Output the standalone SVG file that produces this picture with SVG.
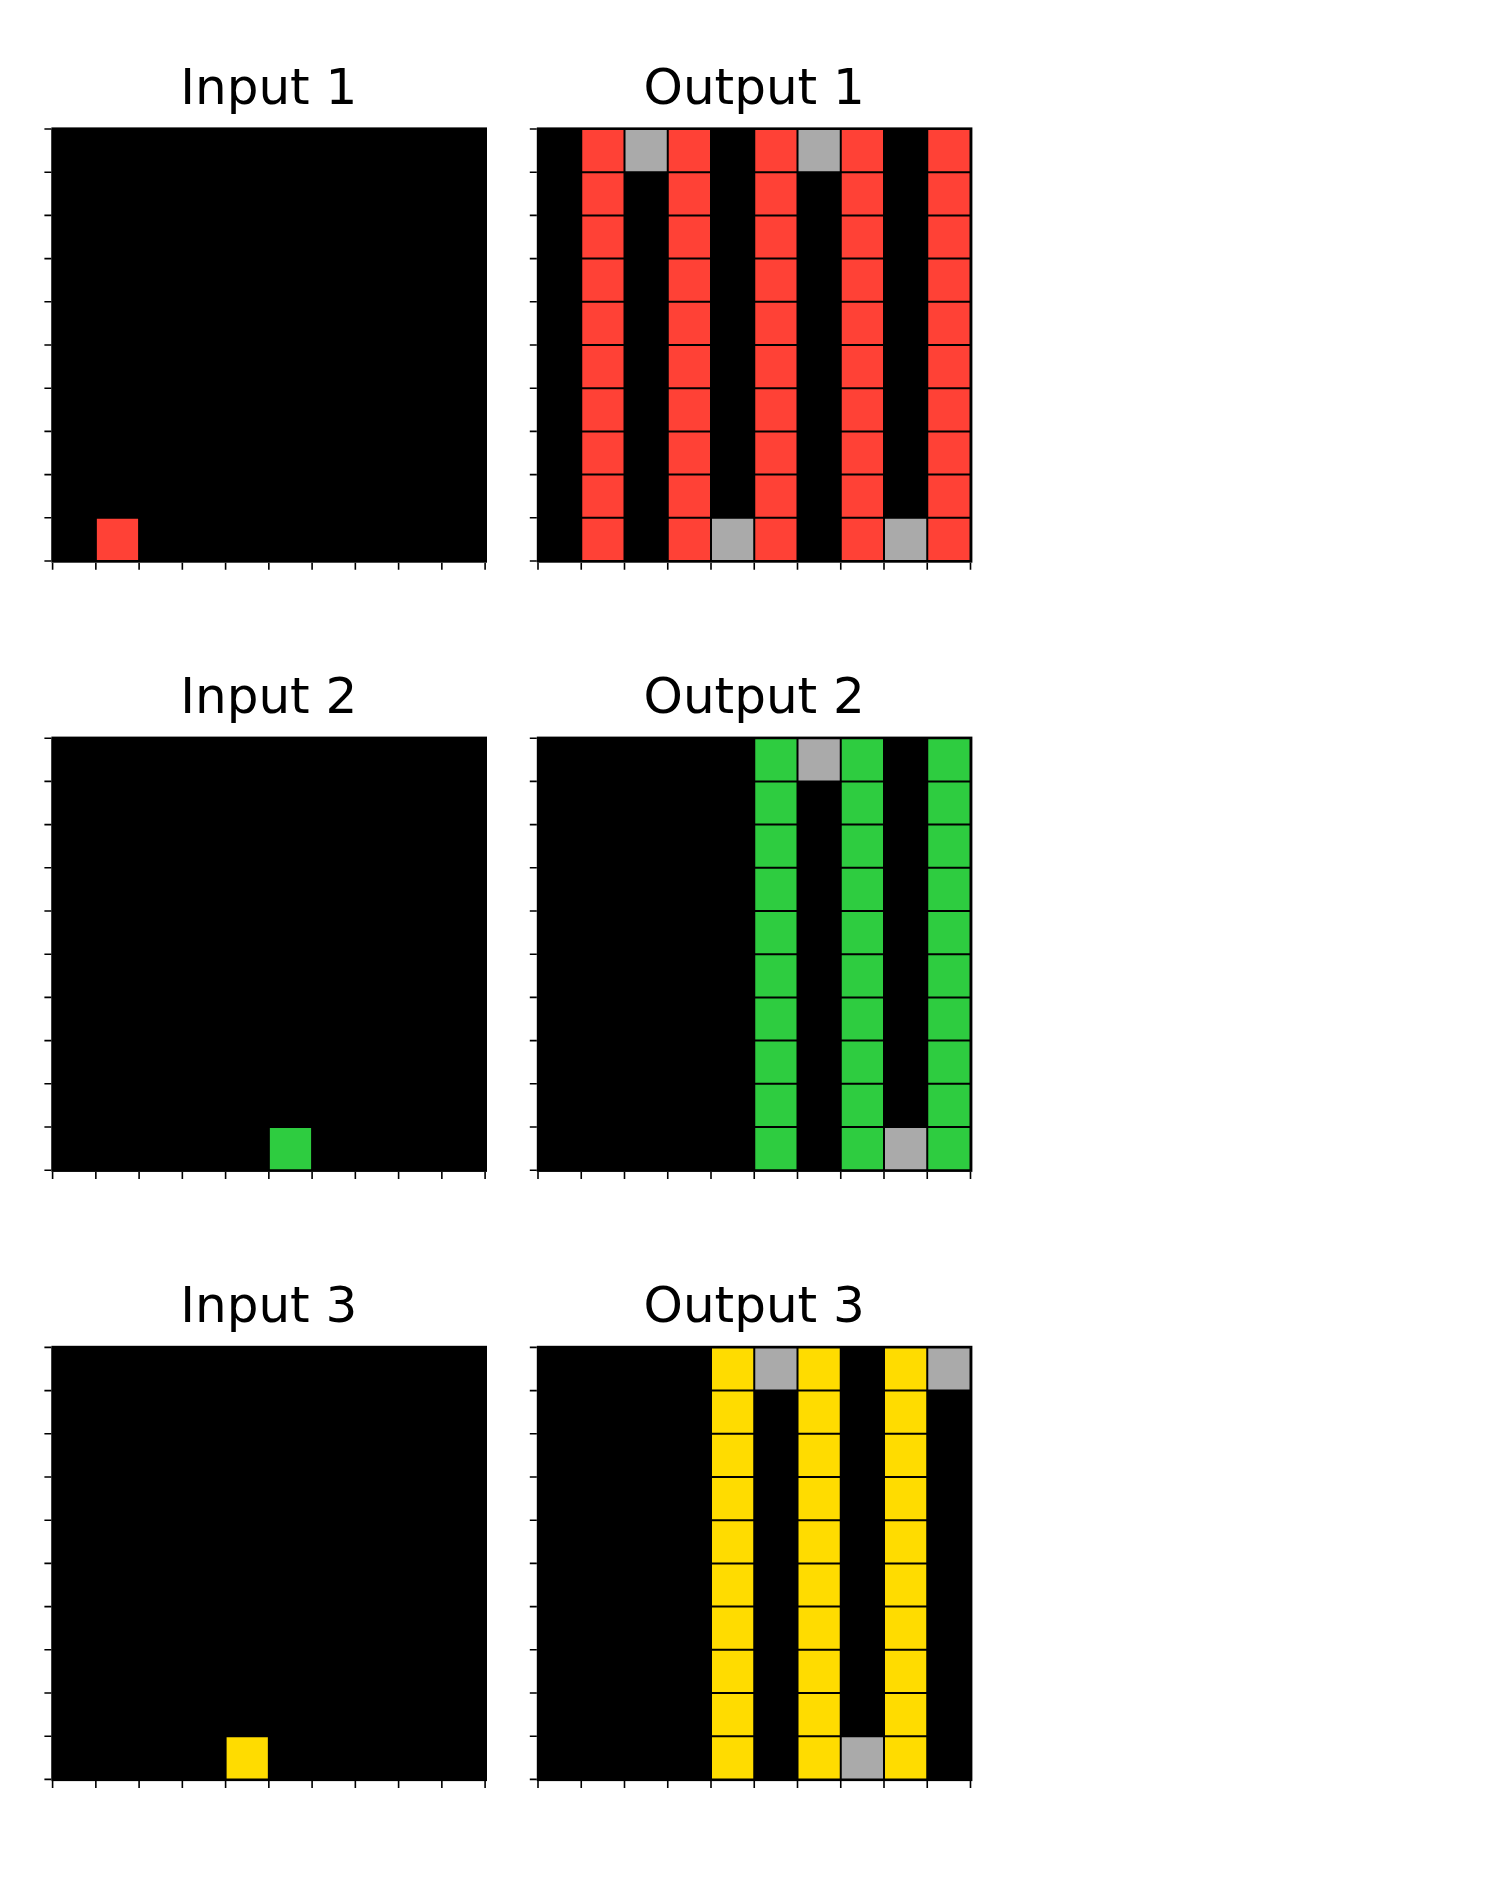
<svg xmlns="http://www.w3.org/2000/svg" xmlns:xlink="http://www.w3.org/1999/xlink" width="1500" height="1890" viewBox="0 0 1500 1890">
<style>
.t{font-family:"DejaVu Sans",sans-serif;font-size:50px;fill:#000;text-anchor:middle}
.r{fill:#FF4136}.g{fill:#2ECC40}.y{fill:#FFDC00}.a{fill:#AAAAAA}
</style>
<defs>
<g id="frame">
<rect x="-1.2" y="-1.6" width="435.6" height="435.3" fill="#000"/>
<path d="M-8.2 0H-1.2M-8.2 43.2H-1.2M-8.2 86.4H-1.2M-8.2 129.6H-1.2M-8.2 172.8H-1.2M-8.2 216H-1.2M-8.2 259.2H-1.2M-8.2 302.4H-1.2M-8.2 345.6H-1.2M-8.2 388.8H-1.2M-8.2 432H-1.2M0 433.7V440.7M43.25 433.7V440.7M86.5 433.7V440.7M129.75 433.7V440.7M173 433.7V440.7M216.25 433.7V440.7M259.5 433.7V440.7M302.75 433.7V440.7M346 433.7V440.7M389.25 433.7V440.7M432.5 433.7V440.7" stroke="#000" stroke-width="1.6" fill="none"/>
</g>
<path id="gl" d="M0 0V432M43.25 0V432M86.5 0V432M129.75 0V432M173 0V432M216.25 0V432M259.5 0V432M302.75 0V432M346 0V432M389.25 0V432M432.5 0V432M0 0H432.5M0 43.2H432.5M0 86.4H432.5M0 129.6H432.5M0 172.8H432.5M0 216H432.5M0 259.2H432.5M0 302.4H432.5M0 345.6H432.5M0 388.8H432.5M0 432H432.5" stroke="#000" stroke-width="2" fill="none"/>
</defs>
<rect width="1500" height="1890" fill="#fff"/>

<g id="input1" transform="translate(52.6,129)">
<text class="t" x="216.25" y="-25">Input 1</text>
<use xlink:href="#frame"/>
<rect class="r" x="43.25" y="388.8" width="43.25" height="43.2"/>
<use xlink:href="#gl"/>
</g>

<g id="output1" transform="translate(538,129)">
<text class="t" x="216.25" y="-25">Output 1</text>
<use xlink:href="#frame"/>
<rect class="r" x="43.25" y="0" width="43.25" height="432"/>
<rect class="r" x="129.75" y="0" width="43.25" height="432"/>
<rect class="r" x="216.25" y="0" width="43.25" height="432"/>
<rect class="r" x="302.75" y="0" width="43.25" height="432"/>
<rect class="r" x="389.25" y="0" width="43.25" height="432"/>
<rect class="a" x="86.5" y="0" width="43.25" height="43.2"/>
<rect class="a" x="173" y="388.8" width="43.25" height="43.2"/>
<rect class="a" x="259.5" y="0" width="43.25" height="43.2"/>
<rect class="a" x="346" y="388.8" width="43.25" height="43.2"/>
<use xlink:href="#gl"/>
</g>

<g id="input2" transform="translate(52.6,738.2)">
<text class="t" x="216.25" y="-25">Input 2</text>
<use xlink:href="#frame"/>
<rect class="g" x="216.25" y="388.8" width="43.25" height="43.2"/>
<use xlink:href="#gl"/>
</g>

<g id="output2" transform="translate(538,738.2)">
<text class="t" x="216.25" y="-25">Output 2</text>
<use xlink:href="#frame"/>
<rect class="g" x="216.25" y="0" width="43.25" height="432"/>
<rect class="g" x="302.75" y="0" width="43.25" height="432"/>
<rect class="g" x="389.25" y="0" width="43.25" height="432"/>
<rect class="a" x="259.5" y="0" width="43.25" height="43.2"/>
<rect class="a" x="346" y="388.8" width="43.25" height="43.2"/>
<use xlink:href="#gl"/>
</g>

<g id="input3" transform="translate(52.6,1347.4)">
<text class="t" x="216.25" y="-25">Input 3</text>
<use xlink:href="#frame"/>
<rect class="y" x="173" y="388.8" width="43.25" height="43.2"/>
<use xlink:href="#gl"/>
</g>

<g id="output3" transform="translate(538,1347.4)">
<text class="t" x="216.25" y="-25">Output 3</text>
<use xlink:href="#frame"/>
<rect class="y" x="173" y="0" width="43.25" height="432"/>
<rect class="y" x="259.5" y="0" width="43.25" height="432"/>
<rect class="y" x="346" y="0" width="43.25" height="432"/>
<rect class="a" x="216.25" y="0" width="43.25" height="43.2"/>
<rect class="a" x="302.75" y="388.8" width="43.25" height="43.2"/>
<rect class="a" x="389.25" y="0" width="43.25" height="43.2"/>
<use xlink:href="#gl"/>
</g>

<g id="connectors"/>
</svg>
